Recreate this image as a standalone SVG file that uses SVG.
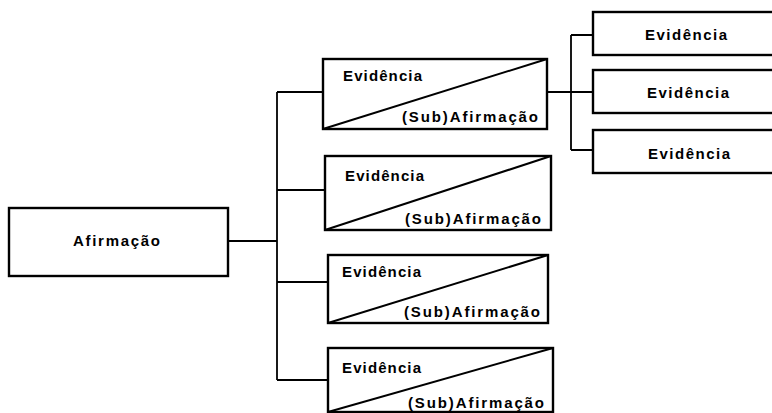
<svg xmlns="http://www.w3.org/2000/svg" width="772" height="413" viewBox="0 0 772 413">
<style>
.box{fill:#fff;stroke:#000;stroke-width:2.4}
.diag{stroke:#000;stroke-width:2;fill:none}
.con{stroke:#000;stroke-width:1.8;fill:none}
text{font-family:"Liberation Sans",Arial,sans-serif;font-weight:bold;font-size:15px;fill:#000}
</style>
<rect width="772" height="413" fill="#fff"/>
<g id="connectors">
<path class="con" d="M228 241H277"/>
<path class="con" d="M277 92V380"/>
<path class="con" d="M277 92H323M277 190H325M277 282H328M277 380H328"/>
<path class="con" d="M547 92H571M571 35V150M571 35H593M571 92H593M571 150H593"/>
</g>
<g id="claim">
<rect class="box" x="9" y="208" width="219" height="68"/>
<text x="73" y="246" textLength="87" lengthAdjust="spacing">Afirmação</text>
</g>
<g id="ev1">
<rect class="box" x="323" y="59" width="224" height="70"/>
<path class="diag" d="M323 129L547 59"/>
<text x="343" y="81" textLength="79" lengthAdjust="spacing">Evidência</text>
<text x="402" y="122" textLength="136" lengthAdjust="spacing">(Sub)Afirmação</text>
</g>
<g id="ev2">
<rect class="box" x="325" y="156" width="226" height="74"/>
<path class="diag" d="M325 230L551 156"/>
<text x="345" y="181" textLength="79" lengthAdjust="spacing">Evidência</text>
<text x="405" y="224" textLength="136" lengthAdjust="spacing">(Sub)Afirmação</text>
</g>
<g id="ev3">
<rect class="box" x="328" y="255" width="220" height="68"/>
<path class="diag" d="M328 323L548 255"/>
<text x="342" y="277" textLength="79" lengthAdjust="spacing">Evidência</text>
<text x="404" y="317" textLength="136" lengthAdjust="spacing">(Sub)Afirmação</text>
</g>
<g id="ev4">
<rect class="box" x="328" y="348" width="225" height="64"/>
<path class="diag" d="M328 412L553 348"/>
<text x="342" y="373" textLength="79" lengthAdjust="spacing">Evidência</text>
<text x="408" y="408" textLength="136" lengthAdjust="spacing">(Sub)Afirmação</text>
</g>
<g id="ev5">
<rect class="box" x="593" y="12" width="190" height="43"/>
<text x="645" y="40" textLength="82" lengthAdjust="spacing">Evidência</text>
</g>
<g id="ev6">
<rect class="box" x="593" y="70" width="190" height="43"/>
<text x="647" y="98" textLength="82" lengthAdjust="spacing">Evidência</text>
</g>
<g id="ev7">
<rect class="box" x="593" y="130" width="190" height="43"/>
<text x="648" y="159" textLength="82" lengthAdjust="spacing">Evidência</text>
</g>
</svg>
